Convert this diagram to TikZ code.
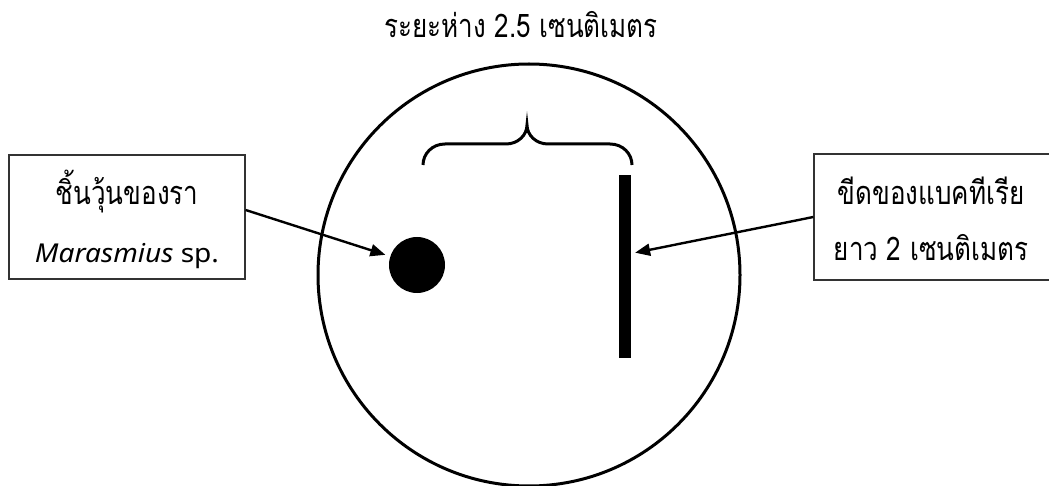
\documentclass[tikz,border=0pt]{standalone}
\usepackage{fontspec}
\setmainfont{Noto Sans}
\newfontfamily\thai[Script=Thai]{Loma}
\usetikzlibrary{arrows.meta}
\newcommand{\tall}[1]{\scalebox{1}[1.25]{#1}}
\newcommand{\wide}[1]{\scalebox{1.08}[1]{#1}}
\tikzset{
  txt/.style={font=\fontsize{26}{30}\selectfont, inner sep=0pt, anchor=base},
  thaitxt/.style={font=\thai\fontsize{26}{30}\selectfont, inner sep=0pt, anchor=base},
  labelbox/.style={draw=black!80, line width=1.3pt, inner sep=0pt},
  conn/.style={line width=2.4pt, -{Triangle[length=15pt,width=12pt]}},
}
\begin{document}
\begin{tikzpicture}[x=1pt,y=-1pt]
\useasboundingbox (0,0) rectangle (1049,486);
\clip (0,0) rectangle (1049,486);
% plate
\node[draw, circle, line width=3pt, minimum size=422pt, inner sep=0pt] (plate) at (529,275) {};
% title
\node[thaitxt] (title) at (521,38) {\tall{ระยะห่าง 2.5 เซนติเมตร}};
% brace
\draw[line width=3pt] (423,165) .. controls (423,154) and (432,144) .. (445,144) -- (506,144)
  .. controls (518,144) and (527,135) .. (527,125)
  .. controls (527,135) and (536,144) .. (548,144) -- (610,144)
  .. controls (623,144) and (632,154) .. (632,165);
% agar plug
\node[circle, fill=black, minimum size=56pt, inner sep=0pt] (dot) at (417,265) {};
% bacterial streak
\node[rectangle, fill=black, minimum width=12pt, minimum height=183pt, inner sep=0pt] (bar) at (625,266.5) {};
% left box
\node[labelbox, minimum width=236pt, minimum height=124pt] (lbox) at (127,217) {};
\node[thaitxt] (l1) at (127,205) {\tall{ชิ้นวุ้นของรา}};
\node[txt] (l2) at (127,263) {\wide{\textit{Marasmius} sp.}};
% right box (cut by the right edge)
\node[labelbox, minimum width=246pt, minimum height=126pt] (rbox) at (937,217) {};
\node[thaitxt] (r1) at (931,205) {\tall{ขีดของแบคทีเรีย}};
\node[thaitxt] (r2) at (931,261) {\tall{ยาว 2 เซนติเมตร}};
% connectors
\draw[conn, shorten >=5pt] ([yshift=7pt]lbox.east) -- (dot);
\draw[conn, shorten >=4pt] (rbox.west) -- ([yshift=13pt]bar.east);
\end{tikzpicture}
\end{document}
